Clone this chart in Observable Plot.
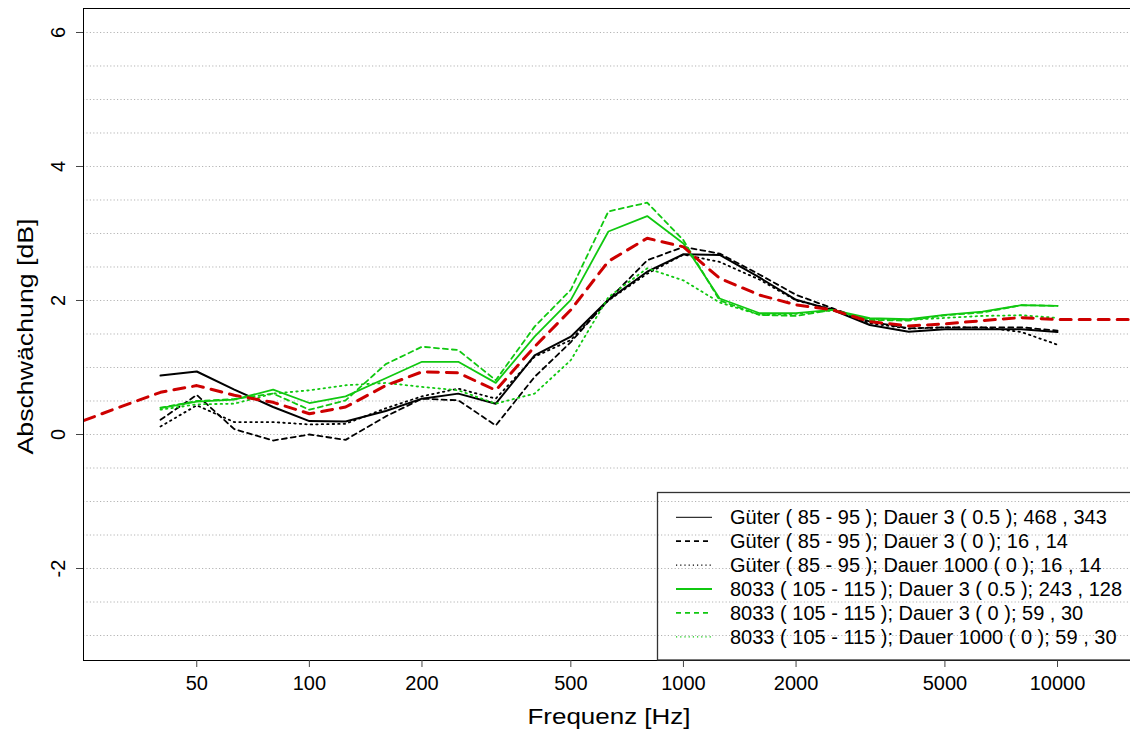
<!DOCTYPE html>
<html><head><meta charset="utf-8">
<script src="https://cdn.jsdelivr.net/npm/d3@7"></script>
<script src="https://cdn.jsdelivr.net/npm/@observablehq/plot@0.6"></script>
<style>
body{margin:0;background:#fff;}
#wrap{position:relative;width:1130px;height:729px;font-family:"Liberation Sans",Arial,sans-serif;overflow:hidden;}
#legend{position:absolute;left:0;top:0;pointer-events:none;}
</style></head><body><div id="wrap"></div>
<script>
// third-octave band centre frequencies [Hz]
const freqs = [40,50,63,80,100,125,160,200,250,315,400,500,630,800,1000,1250,1600,2000,2500,3150,4000,5000,6300,8000,10000];

const gueterDauer3_05   = [0.88,0.94,0.67,0.41,0.20,0.195,0.35,0.535,0.61,0.46,1.18,1.46,2.01,2.43,2.69,2.68,2.34,2.01,1.86,1.635,1.535,1.57,1.57,1.57,1.53];
const gueterDauer3_0    = [0.22,0.59,0.08,-0.09,0.0,-0.08,0.27,0.535,0.51,0.135,0.86,1.38,2.01,2.60,2.80,2.70,2.385,2.085,1.885,1.685,1.585,1.60,1.60,1.60,1.55];
const gueterDauer1000_0 = [0.12,0.435,0.185,0.185,0.15,0.16,0.39,0.57,0.685,0.535,1.16,1.41,2.00,2.40,2.685,2.575,2.31,2.00,1.87,1.66,1.58,1.60,1.60,1.53,1.34];
const g8033Dauer3_05    = [0.395,0.49,0.52,0.67,0.47,0.57,0.84,1.085,1.085,0.77,1.46,2.01,3.03,3.26,2.85,2.03,1.81,1.81,1.86,1.735,1.72,1.785,1.835,1.93,1.92];
const g8033Dauer3_0     = [0.40,0.50,0.53,0.61,0.37,0.51,1.05,1.31,1.26,0.81,1.61,2.16,3.33,3.46,2.90,2.00,1.785,1.77,1.86,1.71,1.70,1.78,1.82,1.93,1.92];
const g8033Dauer1000_0  = [0.37,0.45,0.46,0.61,0.66,0.735,0.77,0.71,0.66,0.46,0.61,1.11,2.05,2.48,2.30,1.97,1.785,1.80,1.85,1.72,1.71,1.74,1.77,1.78,1.74];

// red reference curve
const refFreqs  = [25,31.5,40,50,63,80,100,125,160,200,250,315,400,500,630,800,1000,1250,1600,2000,2500,3150,4000,5000,6300,8000,10000,12500,16000];
const refValues = [0.21,0.42,0.63,0.73,0.585,0.48,0.31,0.41,0.73,0.935,0.92,0.66,1.31,1.86,2.585,2.93,2.80,2.33,2.08,1.935,1.86,1.685,1.62,1.65,1.70,1.745,1.715,1.715,1.715];

const legendLabels = [
  "Güter ( 85 - 95 ); Dauer 3 ( 0.5 ); 468 , 343",
  "Güter ( 85 - 95 ); Dauer 3 ( 0 ); 16 , 14",
  "Güter ( 85 - 95 ); Dauer 1000 ( 0 ); 16 , 14",
  "8033 ( 105 - 115 ); Dauer 3 ( 0.5 ); 243 , 128",
  "8033 ( 105 - 115 ); Dauer 3 ( 0 ); 59 , 30",
  "8033 ( 105 - 115 ); Dauer 1000 ( 0 ); 59 , 30"
];

const xTicks = [50,100,200,500,1000,2000,5000,10000];
const yTicks = [-2,0,2,4,6];
const gridValues = [-3,-2.5,-2,-1.5,-1,-0.5,0,0.5,1,1.5,2,2.5,3,3.5,4,4.5,5,5.5,6];
const xDomain = [24.9, 15670];
const yDomain = [-3.373, 6.358];

const BLACK = "#000000", GREEN = "#10C810", RED = "#CD0000";
const seriesDefs = [
  {values: gueterDauer3_05,   stroke: BLACK, width: 2,   dash: null,    lw: 1,   ldash: null},
  {values: gueterDauer3_0,    stroke: BLACK, width: 1.8, dash: "5,4",   lw: 1.8, ldash: "5,4"},
  {values: gueterDauer1000_0, stroke: BLACK, width: 1.8, dash: "1.5,4", lw: 1.2, ldash: "1.2,3"},
  {values: g8033Dauer3_05,    stroke: GREEN, width: 1.8, dash: null,    lw: 1.8, ldash: null},
  {values: g8033Dauer3_0,     stroke: GREEN, width: 1.8, dash: "5,4",   lw: 1.8, ldash: "5,4"},
  {values: g8033Dauer1000_0,  stroke: GREEN, width: 1.8, dash: "1.5,4", lw: 1.2, ldash: "1.2,3"}
];

const lineMarks = seriesDefs.map(s =>
  Plot.line(freqs.map((f, i) => ({f, v: s.values[i]})), {
    x: "f", y: "v", stroke: s.stroke, strokeWidth: s.width,
    strokeDasharray: s.dash == null ? undefined : s.dash, clip: true
  })
);
const refData = refFreqs.map((f, i) => ({f, v: refValues[i]}));

const FONT = '"Liberation Sans", Arial, sans-serif';
const chart = Plot.plot({
  width: 1130, height: 729,
  marginLeft: 83, marginRight: 0, marginTop: 8, marginBottom: 69,
  style: {fontFamily: FONT, background: "white", color: "black"},
  x: {type: "log", domain: xDomain, axis: null},
  y: {domain: yDomain, axis: null},
  marks: [
    Plot.ruleY(gridValues, {stroke: "#b4b4b4", strokeWidth: 1, strokeDasharray: "1.2,2.2"}),
    ...lineMarks,
    Plot.line(refData, {x: "f", y: "v", stroke: RED, strokeWidth: 3, strokeDasharray: "11,8", clip: true}),
    Plot.ruleX([xDomain[0]], {stroke: "black", strokeWidth: 1}),
    Plot.ruleY([yDomain[0], yDomain[1]], {stroke: "black", strokeWidth: 1}),
    Plot.axisX({ticks: xTicks, tickSize: 7, tickFormat: () => "", label: null, stroke: "#444"}),
    Plot.axisY({ticks: yTicks, tickSize: 7, tickFormat: () => "", label: null, stroke: "#444"}),
    Plot.text(xTicks, {frameAnchor: "bottom", x: d => d, text: d => String(d), dy: 23, fontSize: 20, lineAnchor: "middle", textAnchor: "middle"}),
    Plot.text(yTicks, {frameAnchor: "left", y: d => d, text: d => String(d), rotate: -90, dx: -25, fontSize: 20, lineAnchor: "middle", textAnchor: "middle"}),
    Plot.text(["Frequenz [Hz]"], {frameAnchor: "bottom", text: d => d, dy: 56, dx: 2, fontSize: 22, lineAnchor: "middle", textAnchor: "middle", className: "xtitle"}),
    Plot.text(["Abschwächung [dB]"], {frameAnchor: "left", text: d => d, rotate: -90, dx: -58, dy: 2, fontSize: 22, lineAnchor: "middle", textAnchor: "middle", className: "ytitle"})
  ]
});

d3.select(chart).selectAll(".xtitle text").attr("textLength", 163).attr("lengthAdjust", "spacingAndGlyphs");
d3.select(chart).selectAll(".ytitle text").attr("textLength", 236).attr("lengthAdjust", "spacingAndGlyphs");

const wrap = document.getElementById("wrap");
wrap.appendChild(chart);

// legend overlay (inside the plot area, bottom right)
const leg = d3.select(wrap).append("svg").attr("id", "legend").attr("width", 1130).attr("height", 729);
leg.append("rect").attr("x", 657.5).attr("y", 492.5).attr("width", 520).attr("height", 167.5)
  .attr("fill", "none").attr("stroke", "#333").attr("stroke-width", 1.3);
const rowY0 = 517.3, rowStep = 23.9;
seriesDefs.forEach((s, i) => {
  const y = rowY0 + i * rowStep;
  leg.append("line").attr("x1", 676).attr("x2", 712).attr("y1", y).attr("y2", y)
    .attr("stroke", s.stroke).attr("stroke-width", s.lw)
    .attr("stroke-dasharray", s.ldash);
  leg.append("text").attr("x", 730).attr("y", y).attr("dy", "0.35em")
    .attr("font-size", 20).attr("font-family", FONT)
    .attr("fill", "black").text(legendLabels[i]);
});
</script></body></html>
